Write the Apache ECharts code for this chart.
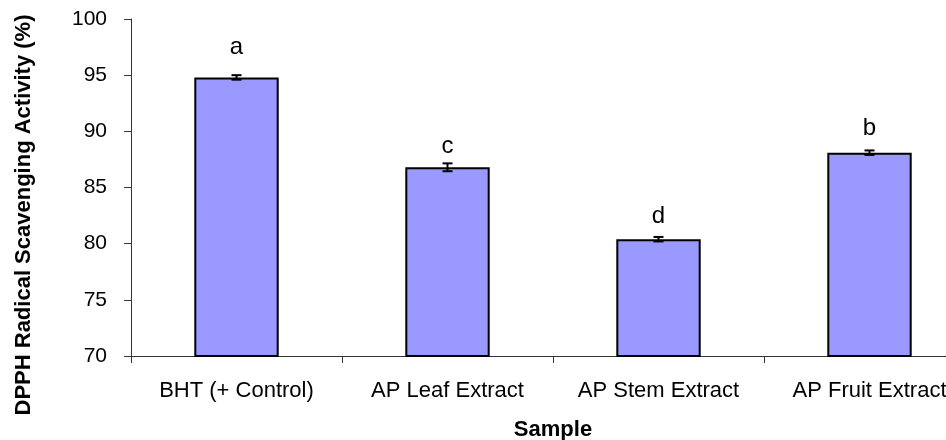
<!DOCTYPE html>
<html>
<head>
<meta charset="utf-8">
<script src="https://cdn.jsdelivr.net/npm/echarts@6/dist/echarts.min.js"></script>
<style>html,body{margin:0;padding:0;background:#fff}#c{width:946px;height:440px}</style>
</head>
<body>
<div id="c"></div>
<script>
const categories = ['BHT (+ Control)', 'AP Leaf Extract', 'AP Stem Extract', 'AP Fruit Extract'];
const values = [94.8, 86.8, 80.4, 88.1];
const errors = [0.2, 0.35, 0.2, 0.2];
const letters = ['a', 'c', 'd', 'b'];
const yTicks = { min: 70, max: 100, interval: 5 };
const yTitle = 'DPPH Radical Scavenging Activity (%)';
const xTitle = 'Sample';

const font = '"Liberation Sans", Arial, sans-serif';
const letterGap = [18, 9, 11, 12];
const chart = echarts.init(document.getElementById('c'), null, { renderer: 'canvas' });
chart.setOption({
  animation: false,
  backgroundColor: '#fff',
  grid: { left: 131, top: 19, bottom: 84, right: -29, outerBoundsMode: 'none' },
  graphic: [{
    type: 'text',
    x: 24, y: 215,
    rotation: Math.PI / 2,
    style: {
      text: yTitle,
      fontFamily: font, fontWeight: 'bold', fontSize: 22, fill: '#000',
      align: 'center', verticalAlign: 'middle'
    }
  }],
  xAxis: {
    type: 'category',
    data: categories,
    name: xTitle,
    nameLocation: 'middle',
    nameGap: 63,
    nameTextStyle: { fontFamily: font, fontWeight: 'bold', fontSize: 22, color: '#000' },
    axisLine: { lineStyle: { color: '#333', width: 1 } },
    axisTick: { show: true, length: 7, lineStyle: { color: '#333' } },
    axisLabel: { fontFamily: font, fontSize: 22, color: '#000', margin: 24, interval: 0 }
  },
  yAxis: {
    type: 'value',
    min: yTicks.min, max: yTicks.max, interval: yTicks.interval,
    splitLine: { show: false },
    axisLine: { show: true, lineStyle: { color: '#333', width: 1 } },
    axisTick: { show: true, length: 7, lineStyle: { color: '#333' } },
    axisLabel: { fontFamily: font, fontSize: 21, color: '#000', margin: 24 }
  },
  series: [
    {
      type: 'bar',
      data: values.map((v, i) => ({ value: v, label: { distance: letterGap[i] } })),
      barWidth: '40%',
      itemStyle: { color: '#9999ff', borderColor: '#000', borderWidth: 2 },
      label: {
        show: true, position: 'top',
        formatter: p => letters[p.dataIndex],
        fontFamily: font, fontSize: 24, color: '#000'
      }
    },
    {
      type: 'custom',
      data: values.map((v, i) => [i, v, errors[i]]),
      z: 10,
      renderItem: (params, api) => {
        const x = api.value(0), v = api.value(1), e = api.value(2);
        const top = api.coord([x, v + e]);
        const bot = api.coord([x, v - e]);
        const w = 5;
        return {
          type: 'group',
          children: [
            { type: 'line', shape: { x1: top[0], y1: top[1], x2: bot[0], y2: bot[1] }, style: { stroke: '#000', lineWidth: 2 } },
            { type: 'line', shape: { x1: top[0] - w, y1: top[1], x2: top[0] + w, y2: top[1] }, style: { stroke: '#000', lineWidth: 2 } },
            { type: 'line', shape: { x1: bot[0] - w, y1: bot[1], x2: bot[0] + w, y2: bot[1] }, style: { stroke: '#000', lineWidth: 2 } }
          ]
        };
      }
    }
  ]
});
</script>
</body>
</html>
